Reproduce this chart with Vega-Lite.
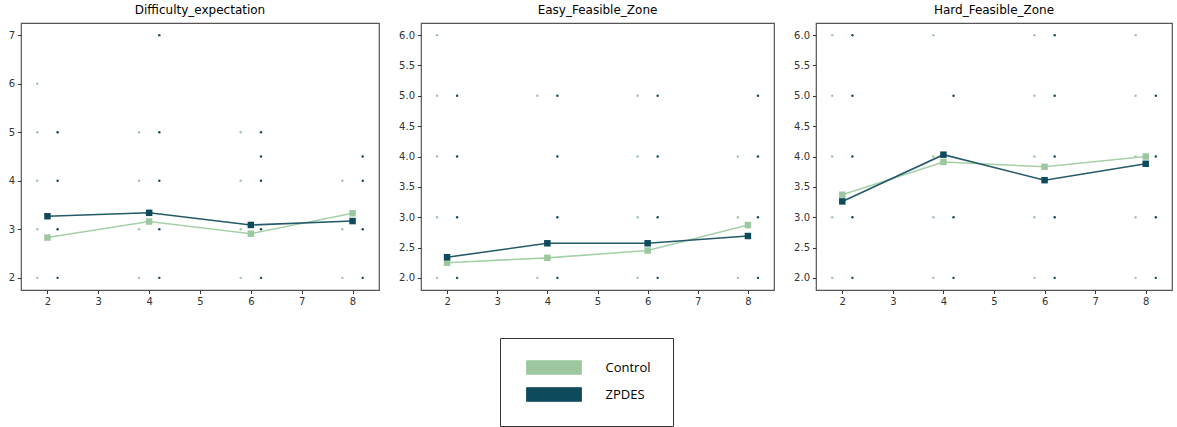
{
  "$schema": "https://vega.github.io/schema/vega-lite/v6.json",
  "autosize": {"type": "pad"},
  "padding": {"left": 7, "top": 3, "right": 0, "bottom": 0},
  "background": "white",
  "config": {
    "view": {"stroke": "#555", "strokeWidth": 1.2},
    "axis": {"labelFont": "DejaVu Sans", "labelFontSize": 10, "labelColor": "#333", "tickColor": "#333", "tickSize": 3.5, "labelPadding": 3, "domain": false, "grid": false, "title": null, "labelOverlap": false},
    "title": {"font": "DejaVu Sans", "fontSize": 12, "fontWeight": "normal", "color": "black", "offset": 6},
    "concat": {"spacing": 42}
  },
  "datasets": {
    "pts": [
      {"m": "Difficulty_expectation", "g": "Control", "x": 1.8, "y": 2}, {"m": "Difficulty_expectation", "g": "Control", "x": 1.8, "y": 3}, {"m": "Difficulty_expectation", "g": "Control", "x": 1.8, "y": 4}, {"m": "Difficulty_expectation", "g": "Control", "x": 1.8, "y": 5}, {"m": "Difficulty_expectation", "g": "Control", "x": 1.8, "y": 6},
      {"m": "Difficulty_expectation", "g": "Control", "x": 3.8, "y": 2}, {"m": "Difficulty_expectation", "g": "Control", "x": 3.8, "y": 3}, {"m": "Difficulty_expectation", "g": "Control", "x": 3.8, "y": 4}, {"m": "Difficulty_expectation", "g": "Control", "x": 3.8, "y": 5},
      {"m": "Difficulty_expectation", "g": "Control", "x": 5.8, "y": 2}, {"m": "Difficulty_expectation", "g": "Control", "x": 5.8, "y": 3}, {"m": "Difficulty_expectation", "g": "Control", "x": 5.8, "y": 4}, {"m": "Difficulty_expectation", "g": "Control", "x": 5.8, "y": 5},
      {"m": "Difficulty_expectation", "g": "Control", "x": 7.8, "y": 2}, {"m": "Difficulty_expectation", "g": "Control", "x": 7.8, "y": 3}, {"m": "Difficulty_expectation", "g": "Control", "x": 7.8, "y": 4},
      {"m": "Difficulty_expectation", "g": "ZPDES", "x": 2.2, "y": 2}, {"m": "Difficulty_expectation", "g": "ZPDES", "x": 2.2, "y": 3}, {"m": "Difficulty_expectation", "g": "ZPDES", "x": 2.2, "y": 4}, {"m": "Difficulty_expectation", "g": "ZPDES", "x": 2.2, "y": 5},
      {"m": "Difficulty_expectation", "g": "ZPDES", "x": 4.2, "y": 2}, {"m": "Difficulty_expectation", "g": "ZPDES", "x": 4.2, "y": 3}, {"m": "Difficulty_expectation", "g": "ZPDES", "x": 4.2, "y": 4}, {"m": "Difficulty_expectation", "g": "ZPDES", "x": 4.2, "y": 5}, {"m": "Difficulty_expectation", "g": "ZPDES", "x": 4.2, "y": 7},
      {"m": "Difficulty_expectation", "g": "ZPDES", "x": 6.2, "y": 2}, {"m": "Difficulty_expectation", "g": "ZPDES", "x": 6.2, "y": 3}, {"m": "Difficulty_expectation", "g": "ZPDES", "x": 6.2, "y": 4}, {"m": "Difficulty_expectation", "g": "ZPDES", "x": 6.2, "y": 4.5}, {"m": "Difficulty_expectation", "g": "ZPDES", "x": 6.2, "y": 5},
      {"m": "Difficulty_expectation", "g": "ZPDES", "x": 8.2, "y": 2}, {"m": "Difficulty_expectation", "g": "ZPDES", "x": 8.2, "y": 3}, {"m": "Difficulty_expectation", "g": "ZPDES", "x": 8.2, "y": 4}, {"m": "Difficulty_expectation", "g": "ZPDES", "x": 8.2, "y": 4.5},

      {"m": "Easy_Feasible_Zone", "g": "Control", "x": 1.8, "y": 2}, {"m": "Easy_Feasible_Zone", "g": "Control", "x": 1.8, "y": 3}, {"m": "Easy_Feasible_Zone", "g": "Control", "x": 1.8, "y": 4}, {"m": "Easy_Feasible_Zone", "g": "Control", "x": 1.8, "y": 5}, {"m": "Easy_Feasible_Zone", "g": "Control", "x": 1.8, "y": 6},
      {"m": "Easy_Feasible_Zone", "g": "Control", "x": 3.8, "y": 2}, {"m": "Easy_Feasible_Zone", "g": "Control", "x": 3.8, "y": 5},
      {"m": "Easy_Feasible_Zone", "g": "Control", "x": 5.8, "y": 2}, {"m": "Easy_Feasible_Zone", "g": "Control", "x": 5.8, "y": 3}, {"m": "Easy_Feasible_Zone", "g": "Control", "x": 5.8, "y": 4}, {"m": "Easy_Feasible_Zone", "g": "Control", "x": 5.8, "y": 5},
      {"m": "Easy_Feasible_Zone", "g": "Control", "x": 7.8, "y": 2}, {"m": "Easy_Feasible_Zone", "g": "Control", "x": 7.8, "y": 3}, {"m": "Easy_Feasible_Zone", "g": "Control", "x": 7.8, "y": 4},
      {"m": "Easy_Feasible_Zone", "g": "ZPDES", "x": 2.2, "y": 2}, {"m": "Easy_Feasible_Zone", "g": "ZPDES", "x": 2.2, "y": 3}, {"m": "Easy_Feasible_Zone", "g": "ZPDES", "x": 2.2, "y": 4}, {"m": "Easy_Feasible_Zone", "g": "ZPDES", "x": 2.2, "y": 5},
      {"m": "Easy_Feasible_Zone", "g": "ZPDES", "x": 4.2, "y": 2}, {"m": "Easy_Feasible_Zone", "g": "ZPDES", "x": 4.2, "y": 3}, {"m": "Easy_Feasible_Zone", "g": "ZPDES", "x": 4.2, "y": 4}, {"m": "Easy_Feasible_Zone", "g": "ZPDES", "x": 4.2, "y": 5},
      {"m": "Easy_Feasible_Zone", "g": "ZPDES", "x": 6.2, "y": 2}, {"m": "Easy_Feasible_Zone", "g": "ZPDES", "x": 6.2, "y": 3}, {"m": "Easy_Feasible_Zone", "g": "ZPDES", "x": 6.2, "y": 4}, {"m": "Easy_Feasible_Zone", "g": "ZPDES", "x": 6.2, "y": 5},
      {"m": "Easy_Feasible_Zone", "g": "ZPDES", "x": 8.2, "y": 2}, {"m": "Easy_Feasible_Zone", "g": "ZPDES", "x": 8.2, "y": 3}, {"m": "Easy_Feasible_Zone", "g": "ZPDES", "x": 8.2, "y": 4}, {"m": "Easy_Feasible_Zone", "g": "ZPDES", "x": 8.2, "y": 5},

      {"m": "Hard_Feasible_Zone", "g": "Control", "x": 1.8, "y": 2}, {"m": "Hard_Feasible_Zone", "g": "Control", "x": 1.8, "y": 3}, {"m": "Hard_Feasible_Zone", "g": "Control", "x": 1.8, "y": 4}, {"m": "Hard_Feasible_Zone", "g": "Control", "x": 1.8, "y": 5}, {"m": "Hard_Feasible_Zone", "g": "Control", "x": 1.8, "y": 6},
      {"m": "Hard_Feasible_Zone", "g": "Control", "x": 3.8, "y": 2}, {"m": "Hard_Feasible_Zone", "g": "Control", "x": 3.8, "y": 3}, {"m": "Hard_Feasible_Zone", "g": "Control", "x": 3.8, "y": 4}, {"m": "Hard_Feasible_Zone", "g": "Control", "x": 3.8, "y": 6},
      {"m": "Hard_Feasible_Zone", "g": "Control", "x": 5.8, "y": 2}, {"m": "Hard_Feasible_Zone", "g": "Control", "x": 5.8, "y": 3}, {"m": "Hard_Feasible_Zone", "g": "Control", "x": 5.8, "y": 4}, {"m": "Hard_Feasible_Zone", "g": "Control", "x": 5.8, "y": 5}, {"m": "Hard_Feasible_Zone", "g": "Control", "x": 5.8, "y": 6},
      {"m": "Hard_Feasible_Zone", "g": "Control", "x": 7.8, "y": 2}, {"m": "Hard_Feasible_Zone", "g": "Control", "x": 7.8, "y": 3}, {"m": "Hard_Feasible_Zone", "g": "Control", "x": 7.8, "y": 4}, {"m": "Hard_Feasible_Zone", "g": "Control", "x": 7.8, "y": 5}, {"m": "Hard_Feasible_Zone", "g": "Control", "x": 7.8, "y": 6},
      {"m": "Hard_Feasible_Zone", "g": "ZPDES", "x": 2.2, "y": 2}, {"m": "Hard_Feasible_Zone", "g": "ZPDES", "x": 2.2, "y": 3}, {"m": "Hard_Feasible_Zone", "g": "ZPDES", "x": 2.2, "y": 4}, {"m": "Hard_Feasible_Zone", "g": "ZPDES", "x": 2.2, "y": 5}, {"m": "Hard_Feasible_Zone", "g": "ZPDES", "x": 2.2, "y": 6},
      {"m": "Hard_Feasible_Zone", "g": "ZPDES", "x": 4.2, "y": 2}, {"m": "Hard_Feasible_Zone", "g": "ZPDES", "x": 4.2, "y": 3}, {"m": "Hard_Feasible_Zone", "g": "ZPDES", "x": 4.2, "y": 5},
      {"m": "Hard_Feasible_Zone", "g": "ZPDES", "x": 6.2, "y": 2}, {"m": "Hard_Feasible_Zone", "g": "ZPDES", "x": 6.2, "y": 3}, {"m": "Hard_Feasible_Zone", "g": "ZPDES", "x": 6.2, "y": 4}, {"m": "Hard_Feasible_Zone", "g": "ZPDES", "x": 6.2, "y": 5}, {"m": "Hard_Feasible_Zone", "g": "ZPDES", "x": 6.2, "y": 6},
      {"m": "Hard_Feasible_Zone", "g": "ZPDES", "x": 8.2, "y": 2}, {"m": "Hard_Feasible_Zone", "g": "ZPDES", "x": 8.2, "y": 3}, {"m": "Hard_Feasible_Zone", "g": "ZPDES", "x": 8.2, "y": 4}, {"m": "Hard_Feasible_Zone", "g": "ZPDES", "x": 8.2, "y": 5}
    ],
    "means": [
      {"m": "Difficulty_expectation", "g": "Control", "x": 2, "y": 2.83}, {"m": "Difficulty_expectation", "g": "Control", "x": 4, "y": 3.16}, {"m": "Difficulty_expectation", "g": "Control", "x": 6, "y": 2.91}, {"m": "Difficulty_expectation", "g": "Control", "x": 8, "y": 3.33},
      {"m": "Difficulty_expectation", "g": "ZPDES", "x": 2, "y": 3.27}, {"m": "Difficulty_expectation", "g": "ZPDES", "x": 4, "y": 3.34}, {"m": "Difficulty_expectation", "g": "ZPDES", "x": 6, "y": 3.09}, {"m": "Difficulty_expectation", "g": "ZPDES", "x": 8, "y": 3.17},
      {"m": "Easy_Feasible_Zone", "g": "Control", "x": 2, "y": 2.25}, {"m": "Easy_Feasible_Zone", "g": "Control", "x": 4, "y": 2.33}, {"m": "Easy_Feasible_Zone", "g": "Control", "x": 6, "y": 2.45}, {"m": "Easy_Feasible_Zone", "g": "Control", "x": 8, "y": 2.87},
      {"m": "Easy_Feasible_Zone", "g": "ZPDES", "x": 2, "y": 2.34}, {"m": "Easy_Feasible_Zone", "g": "ZPDES", "x": 4, "y": 2.57}, {"m": "Easy_Feasible_Zone", "g": "ZPDES", "x": 6, "y": 2.57}, {"m": "Easy_Feasible_Zone", "g": "ZPDES", "x": 8, "y": 2.69},
      {"m": "Hard_Feasible_Zone", "g": "Control", "x": 2, "y": 3.37}, {"m": "Hard_Feasible_Zone", "g": "Control", "x": 4, "y": 3.91}, {"m": "Hard_Feasible_Zone", "g": "Control", "x": 6, "y": 3.83}, {"m": "Hard_Feasible_Zone", "g": "Control", "x": 8, "y": 4.0},
      {"m": "Hard_Feasible_Zone", "g": "ZPDES", "x": 2, "y": 3.26}, {"m": "Hard_Feasible_Zone", "g": "ZPDES", "x": 4, "y": 4.03}, {"m": "Hard_Feasible_Zone", "g": "ZPDES", "x": 6, "y": 3.61}, {"m": "Hard_Feasible_Zone", "g": "ZPDES", "x": 8, "y": 3.88}
    ]
  },
  "bounds": "flush",
  "hconcat": [
    {
      "title": "Difficulty_expectation",
      "width": 358, "height": 267,
      "encoding": {
        "x": {"field": "x", "type": "quantitative", "scale": {"domain": [1.48, 8.52], "nice": false, "zero": false}, "axis": {"values": [2,3,4,5,6,7,8]}},
        "y": {"field": "y", "type": "quantitative", "scale": {"domain": [1.75, 7.25], "nice": false, "zero": false}, "axis": {"values": [2,3,4,5,6,7]}}
      },
      "layer": [
        {"data": {"name": "pts"}, "transform": [{"filter": "datum.m === 'Difficulty_expectation'"}],
         "mark": {"type": "point", "filled": true, "shape": "circle", "size": 6, "opacity": 1},
         "encoding": {
           "fill": {"field": "g", "type": "nominal", "scale": {"domain": ["Control", "ZPDES"], "range": ["#9cc79f", "#0f4a5c"]},
             "legend": {"title": null, "orient": "none", "legendX": 479, "legendY": 315, "padding": 22, "strokeColor": "#333", "fillColor": "white", "symbolType": "M-4,-1H4V1H-4Z", "symbolSize": 189, "symbolOffset": 24.5, "labelOffset": 44, "rowPadding": 8, "labelFont": "Open Sans", "labelFontSize": 13, "labelColor": "black", "symbolOpacity": 1, "symbolStrokeColor": "#333", "symbolStrokeWidth": 1, "labelExpr": "datum.label + '\u00a0\u00a0\u00a0'",
               "encode": {"symbols": {"enter": {"stroke": {"value": "#333"}, "strokeWidth": {"value": 1}}, "update": {"stroke": {"value": "#333"}, "strokeWidth": {"value": 1}}}}}}
         }},
        {"data": {"name": "means"}, "transform": [{"filter": "datum.m === 'Difficulty_expectation'"}],
         "mark": {"type": "line", "strokeWidth": 1.6},
         "encoding": {
           "stroke": {"field": "g", "type": "nominal", "scale": {"domain": ["Control", "ZPDES"], "range": ["#a6d0a9", "#24596a"]}, "legend": null}
         }},
        {"data": {"name": "means"}, "transform": [{"filter": "datum.m === 'Difficulty_expectation'"}],
         "mark": {"type": "point", "filled": true, "shape": "square", "size": 42, "opacity": 1},
         "encoding": {
           "fill": {"field": "g", "type": "nominal"}
         }}
      ]
    },
    {
      "title": "Easy_Feasible_Zone",
      "width": 353, "height": 267,
      "encoding": {
        "x": {"field": "x", "type": "quantitative", "scale": {"domain": [1.48, 8.52], "nice": false, "zero": false}, "axis": {"values": [2,3,4,5,6,7,8]}},
        "y": {"field": "y", "type": "quantitative", "scale": {"domain": [1.8, 6.2], "nice": false, "zero": false}, "axis": {"values": [2,2.5,3,3.5,4,4.5,5,5.5,6], "format": ".1f"}}
      },
      "layer": [
        {"data": {"name": "pts"}, "transform": [{"filter": "datum.m === 'Easy_Feasible_Zone'"}],
         "mark": {"type": "point", "filled": true, "shape": "circle", "size": 6, "opacity": 1},
         "encoding": {
           "fill": {"field": "g", "type": "nominal"}
         }},
        {"data": {"name": "means"}, "transform": [{"filter": "datum.m === 'Easy_Feasible_Zone'"}],
         "mark": {"type": "line", "strokeWidth": 1.6},
         "encoding": {
           "stroke": {"field": "g", "type": "nominal", "legend": null}
         }},
        {"data": {"name": "means"}, "transform": [{"filter": "datum.m === 'Easy_Feasible_Zone'"}],
         "mark": {"type": "point", "filled": true, "shape": "square", "size": 42, "opacity": 1},
         "encoding": {
           "fill": {"field": "g", "type": "nominal"}
         }}
      ]
    },
    {
      "title": "Hard_Feasible_Zone",
      "width": 356, "height": 267,
      "encoding": {
        "x": {"field": "x", "type": "quantitative", "scale": {"domain": [1.48, 8.52], "nice": false, "zero": false}, "axis": {"values": [2,3,4,5,6,7,8]}},
        "y": {"field": "y", "type": "quantitative", "scale": {"domain": [1.8, 6.2], "nice": false, "zero": false}, "axis": {"values": [2,2.5,3,3.5,4,4.5,5,5.5,6], "format": ".1f"}}
      },
      "layer": [
        {"data": {"name": "pts"}, "transform": [{"filter": "datum.m === 'Hard_Feasible_Zone'"}],
         "mark": {"type": "point", "filled": true, "shape": "circle", "size": 6, "opacity": 1},
         "encoding": {
           "fill": {"field": "g", "type": "nominal"}
         }},
        {"data": {"name": "means"}, "transform": [{"filter": "datum.m === 'Hard_Feasible_Zone'"}],
         "mark": {"type": "line", "strokeWidth": 1.6},
         "encoding": {
           "stroke": {"field": "g", "type": "nominal", "legend": null}
         }},
        {"data": {"name": "means"}, "transform": [{"filter": "datum.m === 'Hard_Feasible_Zone'"}],
         "mark": {"type": "point", "filled": true, "shape": "square", "size": 42, "opacity": 1},
         "encoding": {
           "fill": {"field": "g", "type": "nominal"}
         }}
      ]
    }
  ],
  "resolve": {"scale": {"y": "independent", "x": "independent"}}
}
